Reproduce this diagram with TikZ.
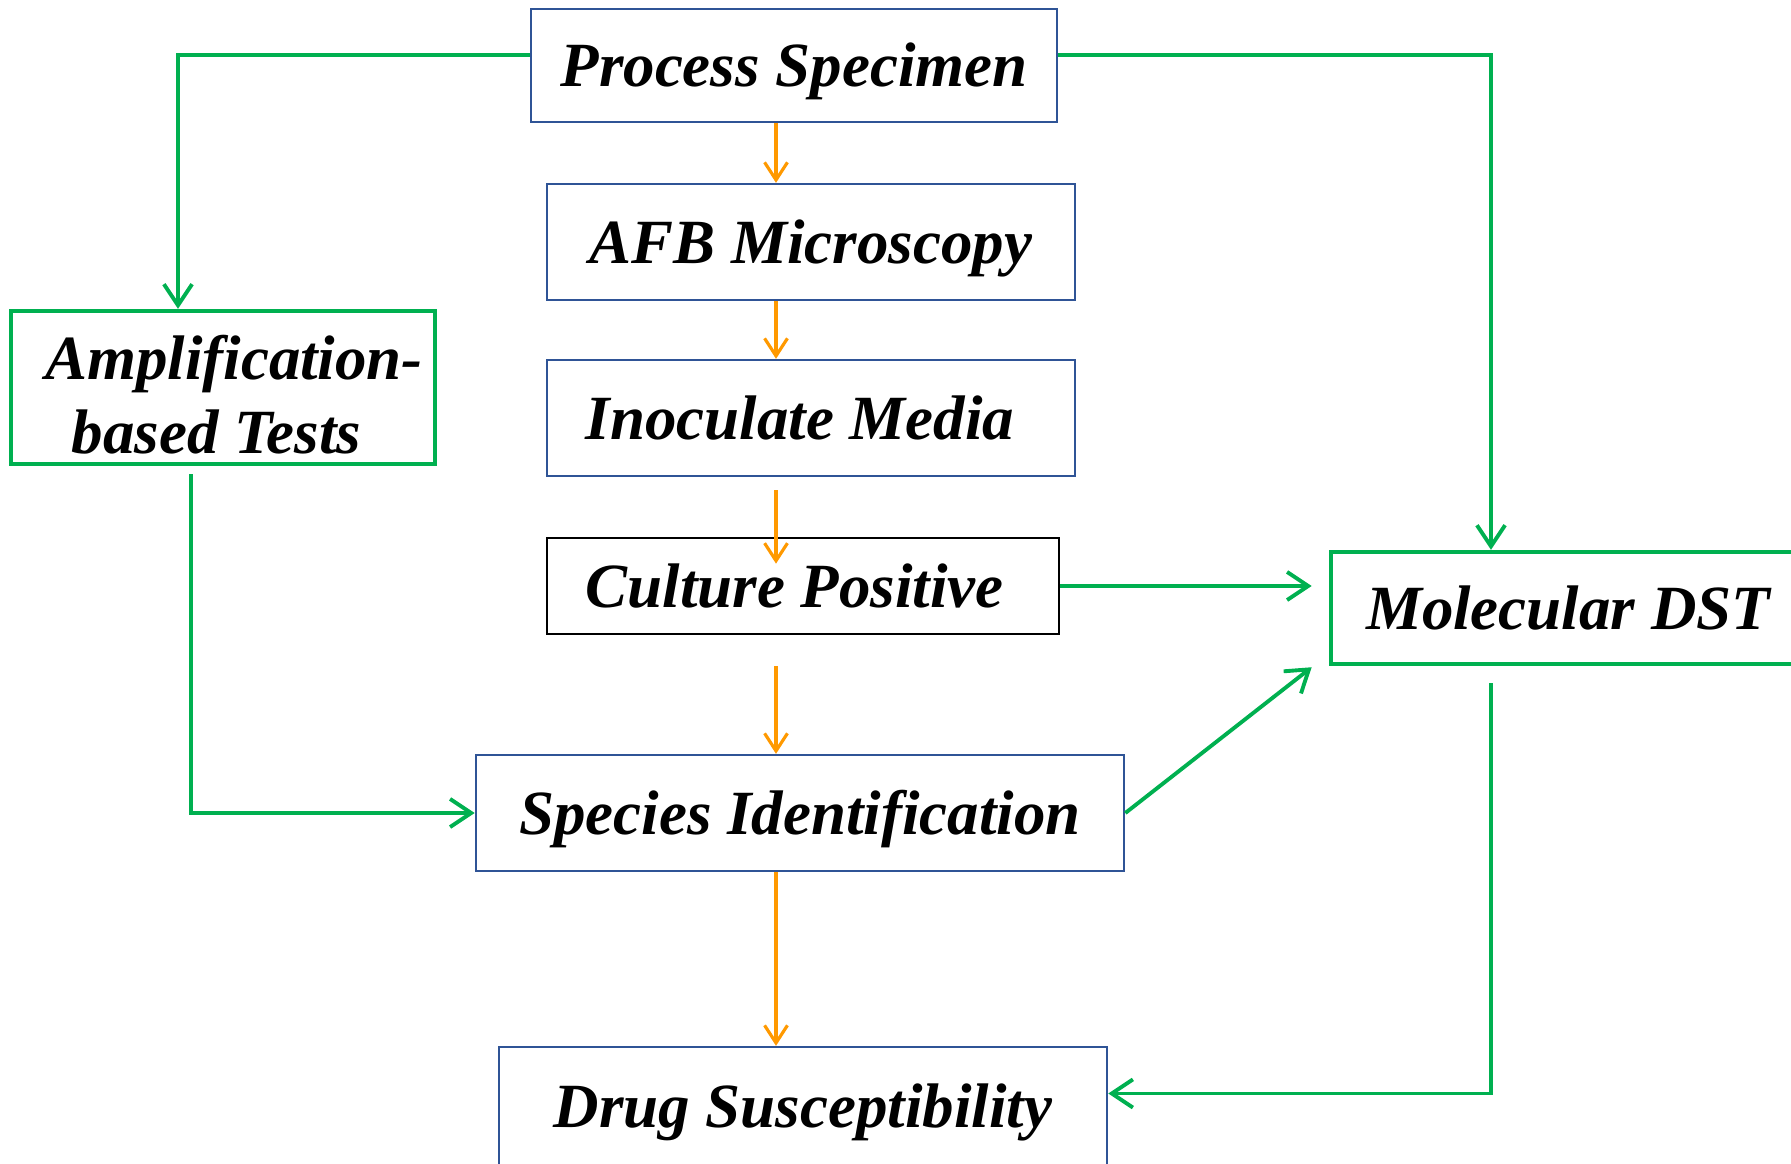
\documentclass[tikz,border=0pt]{standalone}
\usepackage{fontspec}
\setmainfont{Liberation Serif}
\usetikzlibrary{arrows.meta, calc}
\definecolor{flowgreen}{RGB}{0,176,80}
\definecolor{floworange}{RGB}{255,153,0}
\definecolor{boxblue}{RGB}{47,84,150}
\newcommand{\padbox}[1]{\rule{#1}{0pt}}
\tikzset{
    boxfont/.style={inner sep=0pt, font=\fontsize{17.9}{20.8}\selectfont\bfseries\itshape},
    box/.style={boxfont, draw=boxblue, line width=0.65pt, text height=12.1pt, text depth=0pt},
    greenbox/.style={box, draw=flowgreen, line width=1.25pt},
    blackbox/.style={box, draw=black, line width=0.75pt},
    orangearrow/.style={draw=floworange, line width=0.9pt, -{Straight Barb[length=5pt,width=6.5pt]}},
    greenarrow/.style={draw=flowgreen, line width=1.1pt, -{Straight Barb[length=6pt,width=8pt]}}
}

\begin{document}
\begin{tikzpicture}[x=0.01cm, y=-0.01cm]
    \useasboundingbox (0,0) rectangle (1791,1163);
    \clip (0,0) rectangle (1791,1163);
    % boxes
    \node[box, minimum width=5.26cm, minimum height=1.13cm] (specimen) at (794,65.5) {Process Specimen};
    \node[box, minimum width=5.28cm, minimum height=1.16cm] (afb) at (811,242) {AFB Microscopy};
    \node[box, minimum width=5.28cm, minimum height=1.16cm] (inoculate) at (811,418) {Inoculate Media\padbox{0.22cm}};
    \node[blackbox, minimum width=5.12cm, minimum height=0.96cm] (culture) at (803,586) {Culture Positive\padbox{0.17cm}};
    \node[box, minimum width=6.48cm, minimum height=1.16cm] (species) at (800,813) {Species Identification};
    \node[box, minimum width=6.08cm, minimum height=1.19cm] (drug) at (803,1106.5) {Drug Susceptibility};
    \node[boxfont, draw=flowgreen, line width=1.25pt, align=center, text height=37.3pt, text depth=0pt,
          minimum width=4.24cm, minimum height=1.53cm] (amplify) at (223,387.5)
          {\padbox{0.22cm}Amplification-\\based Tests\padbox{0.13cm}};
    \node[greenbox, minimum width=4.74cm, minimum height=1.12cm] (moldst) at (1568,608) {Molecular DST};
    % culture path
    \coordinate (spine) at (776,0);
    \draw[orangearrow] (specimen.south -| spine) -- (afb.north -| spine);
    \draw[orangearrow] (afb.south -| spine) -- (inoculate.north -| spine);
    \draw[orangearrow] ($(inoculate.south -| spine)+(0,13)$) -- ($(culture.north -| spine)+(0,27)$);
    \draw[orangearrow] ($(culture.south -| spine)+(0,31)$) -- (species.north -| spine);
    \draw[orangearrow] (species.south -| spine) -- (drug.north -| spine);
    % molecular path
    \draw[greenarrow] ($(specimen.west)+(0,-10.5)$) -| ($(amplify.north)+(-45,0)$);
    \draw[greenarrow] ($(specimen.east)+(0,-10.5)$) -| ($(moldst.north)+(-77,0)$);
    \draw[greenarrow] (culture.east) -- ($(moldst.west |- culture.east)+(-17,0)$);
    \draw[greenarrow] (species.east) -- ($(moldst.south west)+(-17,1)$);
    \draw[greenarrow] ($(amplify.south)+(-32,8)$) |- (species.west);
    \draw[greenarrow] ($(moldst.south)+(-77,17)$) |- ($(drug.east)+(0,-13)$);
\end{tikzpicture}
\end{document}
